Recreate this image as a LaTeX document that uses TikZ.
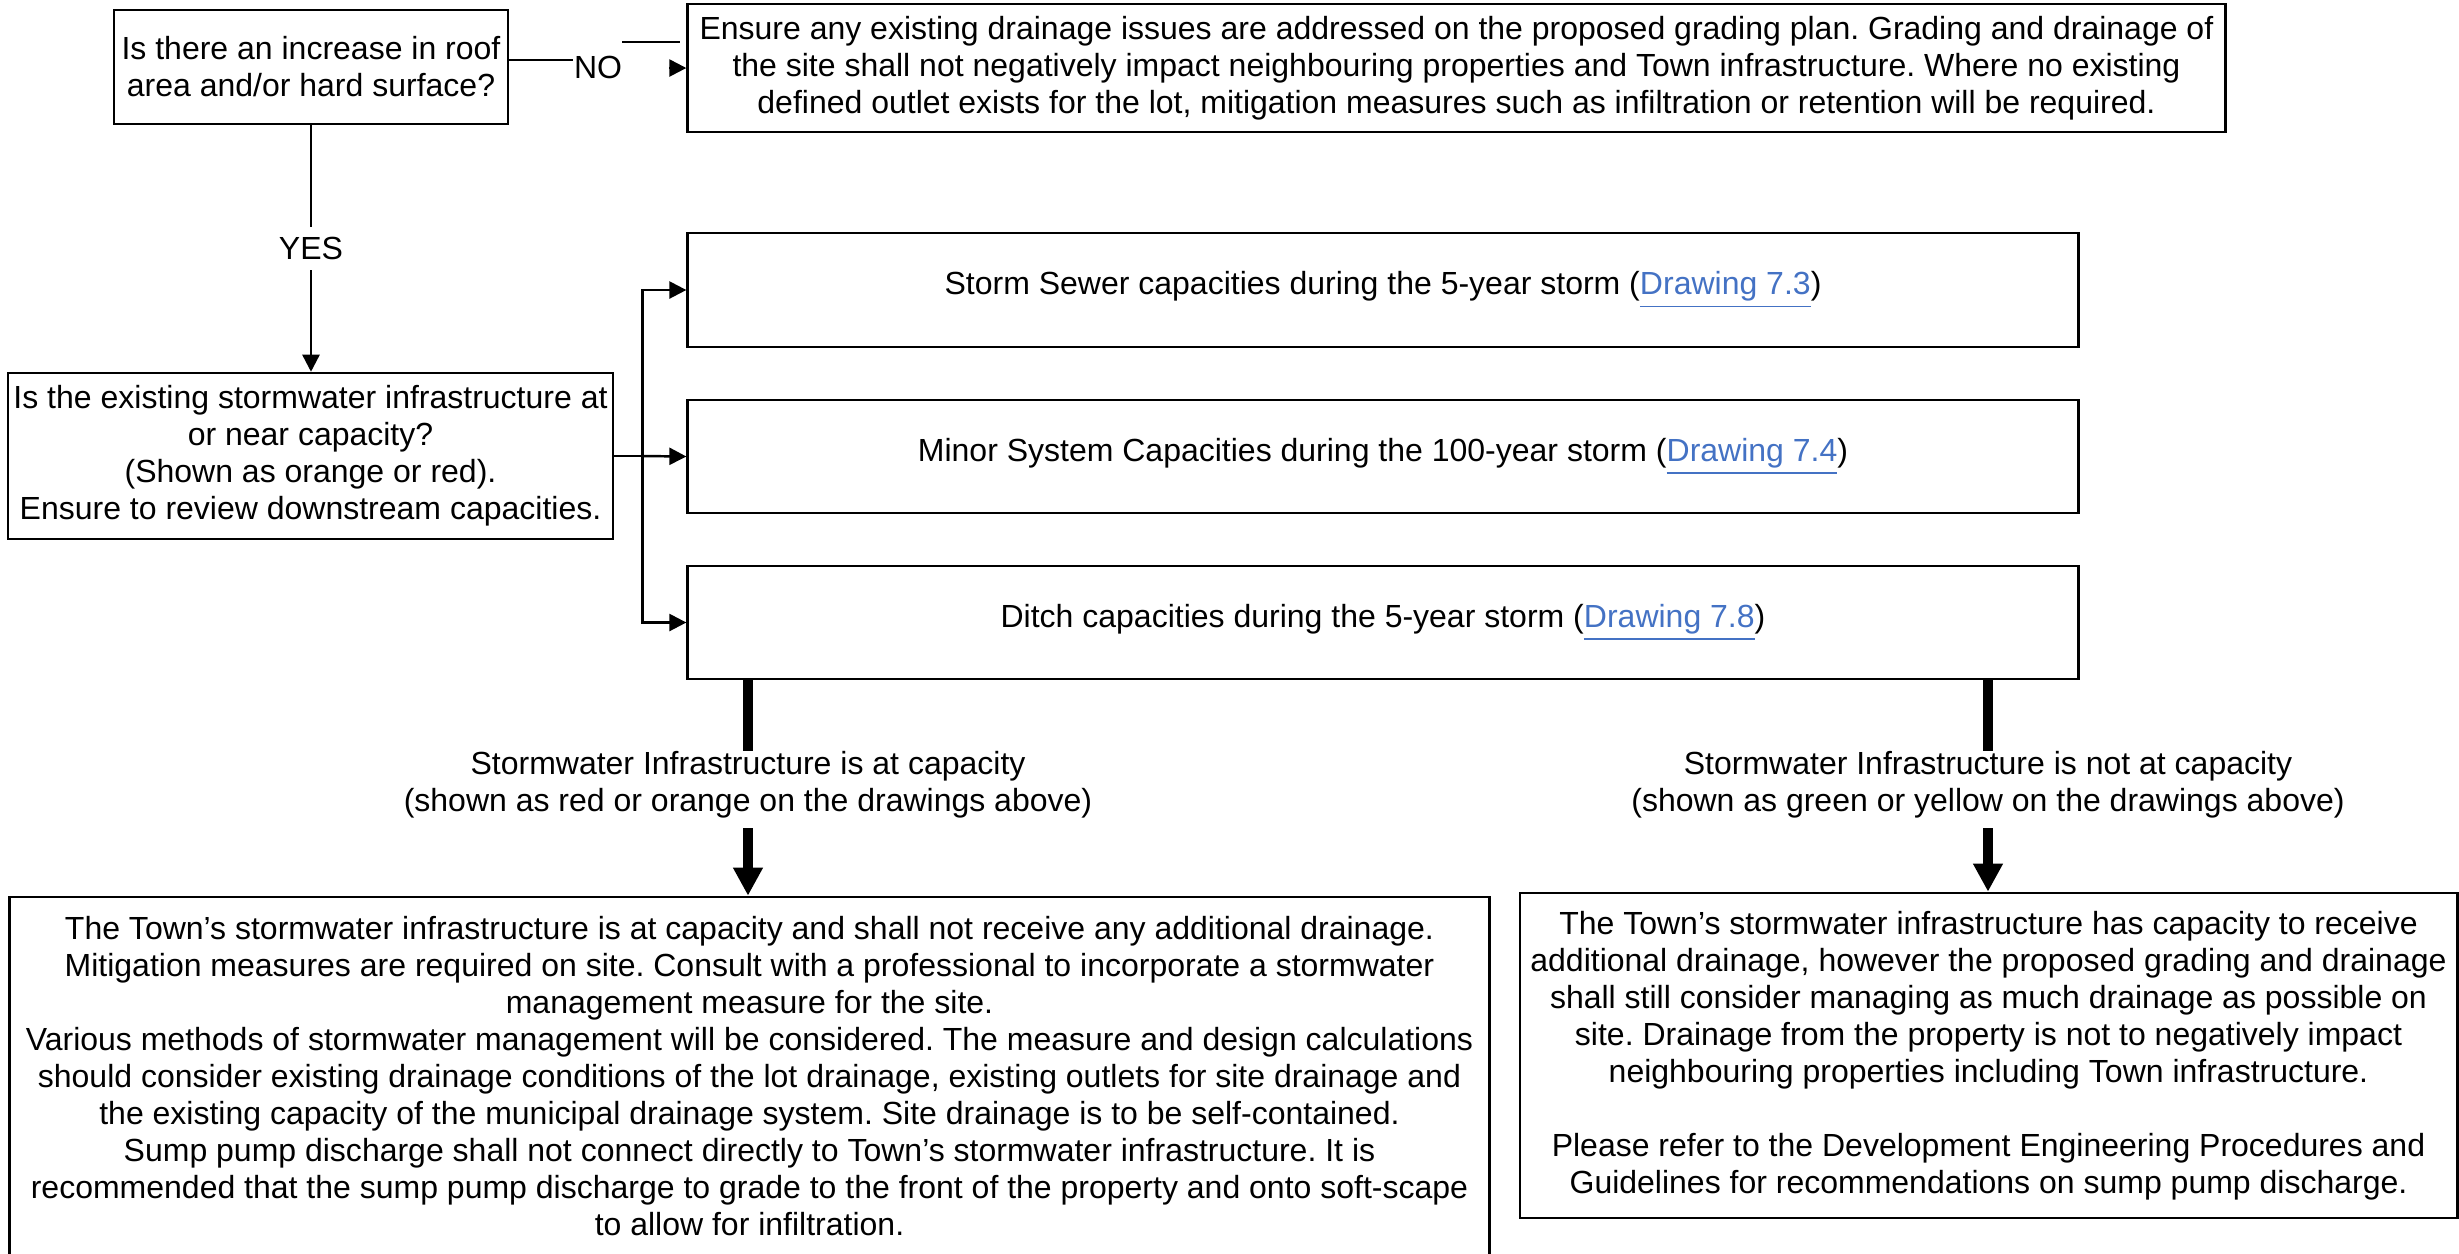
\documentclass[tikz,border=0pt]{standalone}
\usepackage{fontspec}
\setmainfont{Liberation Sans}
\usepackage{tikz}
\usetikzlibrary{arrows.meta}
\definecolor{linkblue}{HTML}{4472C4}
\frenchspacing
\newcommand\diagfont{\fontsize{9.1pt}{10.5pt}\selectfont}
\newcommand\drawref[1]{\textcolor{linkblue}{\underline{#1}}}

\begin{document}
\begin{tikzpicture}[x=0.01cm, y=-0.01cm,
                box/.style={draw, line width=0.7pt, align=center, inner sep=0pt, font=\diagfont},
                lbl/.style={align=center, inner sep=0pt, font=\diagfont},
                arr/.style={line width=0.7pt, -{Triangle[length=0.17cm, width=0.17cm]}},
                fat/.style={line width=3.1pt},
                fatarr/.style={fat, -{Triangle[length=0.28cm, width=0.28cm]}}]
                \useasboundingbox (0,0) rectangle (2459,1253);

                % Questions
                \node[box, minimum width=3.94cm, minimum height=1.14cm] (Q1) at (311,67)
                    {Is there an increase in roof\\area and/or hard surface?};
                \node[box, minimum width=6.05cm, minimum height=1.66cm] (Q2) at (310.5,456)
                    {Is the existing stormwater infrastructure at\\or near capacity?\\(Shown as orange or red).\\Ensure to review downstream capacities.};

                % NO branch
                \node[box, minimum width=15.37cm, minimum height=1.28cm] (Ens) at (1456.5,68)
                    {Ensure any existing drainage issues are addressed on the proposed grading plan. Grading and drainage of\\the site shall not negatively impact neighbouring properties and Town infrastructure. Where no existing\\defined outlet exists for the lot, mitigation measures such as infiltration or retention will be required.};

                % Drawings
                \node[box, minimum width=13.9cm, minimum height=1.14cm] (Sewer) at (1383,290)
                    {Storm Sewer capacities during the 5-year storm (\drawref{Drawing 7.3})};
                \node[box, minimum width=13.9cm, minimum height=1.13cm] (Minor) at (1383,456.5)
                    {Minor System Capacities during the 100-year storm (\drawref{Drawing 7.4})};
                \node[box, minimum width=13.9cm, minimum height=1.13cm] (Ditch) at (1383,622.5)
                    {Ditch capacities during the 5-year storm (\drawref{Drawing 7.8})};

                % Outcomes (left one runs off the bottom edge)
                \node[box, minimum width=14.79cm, minimum height=3.58cm] (ResA) at (749.5,1076)
                    {The Town’s stormwater infrastructure is at capacity and shall not receive any additional drainage.\\Mitigation measures are required on site. Consult with a professional to incorporate a stormwater\\management measure for the site.\\Various methods of stormwater management will be considered. The measure and design calculations\\should consider existing drainage conditions of the lot drainage, existing outlets for site drainage and\\the existing capacity of the municipal drainage system. Site drainage is to be self-contained.\\Sump pump discharge shall not connect directly to Town’s stormwater infrastructure. It is\\recommended that the sump pump discharge to grade to the front of the property and onto soft-scape\\to allow for infiltration.};
                \node[box, minimum width=9.37cm, minimum height=3.25cm] (ResB) at (1988.5,1055.5)
                    {The Town’s stormwater infrastructure has capacity to receive\\additional drainage, however the proposed grading and drainage\\shall still consider managing as much drainage as possible on\\site. Drainage from the property is not to negatively impact\\neighbouring properties including Town infrastructure.\\[10.5pt]Please refer to the Development Engineering Procedures and\\Guidelines for recommendations on sump pump discharge.};

                % Labels
                \node[lbl] (NoLbl) at (598,67) {NO};
                \node[lbl] (AtCap) at (748,785)
                    {Stormwater Infrastructure is at capacity\\(shown as red or orange on the drawings above)};
                \node[lbl] (NotCap) at (1988,785)
                    {Stormwater Infrastructure is not at capacity\\(shown as green or yellow on the drawings above)};

                % NO connector (broken line)
                \coordinate (NoLev) at (0,60);
                \coordinate (NoTop) at (622,42);
                \draw[line width=0.7pt] (Q1.east |- NoLev) -- (NoLbl.west |- NoLev);
                \draw[line width=0.7pt] (NoTop) -- ++(58,0);
                \draw[arr] ([xshift=-0.17cm]Ens.west) -- (Ens.west);

                % YES connector
                \draw[arr] (Q1.south) -- node[fill=white, font=\diagfont, inner sep=3pt] (YesLbl) {YES} (Q1.south |- Q2.north);

                % Fork to the drawings
                \draw[line width=0.7pt] (Q2.east) -- ++(28,0) coordinate (Fork);
                \draw[arr] (Fork) |- (Sewer.west);
                \draw[arr] (Fork) -- (Minor.west);
                \draw[arr] (Fork) |- (Ditch.west);

                % Capacity connectors
                \draw[fat] (Ditch.south -| AtCap) -- (AtCap.north);
                \draw[fatarr, shorten <=0.09cm] (AtCap.south) -- (ResA.north -| AtCap);
                \draw[fat] (Ditch.south -| NotCap) -- (NotCap.north);
                \draw[fatarr, shorten <=0.09cm] (NotCap.south) -- (ResB.north -| NotCap);
\end{tikzpicture}
\end{document}
